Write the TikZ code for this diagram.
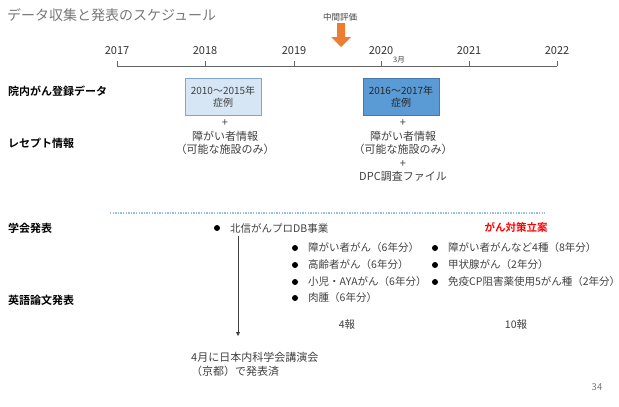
\documentclass[tikz,border=0pt]{standalone}
\usepackage{fontspec}
\usepackage{tikz}
\usetikzlibrary{arrows.meta}
\newfontfamily\jp{Noto Sans CJK JP}[BoldFont={Noto Sans CJK JP Bold}]
\definecolor{txtgray}{RGB}{64,64,64}
\definecolor{titlegray}{RGB}{120,120,120}
\definecolor{axisgray}{RGB}{100,100,100}
\definecolor{boxlight}{RGB}{214,230,244}
\definecolor{boxlightedge}{RGB}{130,165,205}
\definecolor{boxdark}{RGB}{91,155,213}
\definecolor{boxdarkedge}{RGB}{70,120,170}
\definecolor{midorange}{RGB}{237,125,49}
\definecolor{dotblue}{RGB}{150,190,232}

\begin{document}
\begin{tikzpicture}
  [x=1pt,y=-1pt,every node/.style={text=txtgray,inner sep=0pt,font=\jp\fontsize{10.5}{14}\selectfont},
   head/.style={anchor=west,text=black,font=\jp\bfseries\fontsize{11}{12}\selectfont},
   item/.style={anchor=west},
   dot/.style={circle,fill=black,minimum size=6pt},
   stack/.style={align=center,font=\jp\fontsize{11}{13.5}\selectfont},
   cases/.style={line width=0.8pt,minimum width=76pt,minimum height=37pt,align=center,font=\jp\fontsize{10}{12.5}\selectfont}]

  \useasboundingbox (0,0) rectangle (619,407);

  \node[anchor=west,text=titlegray,font=\jp\fontsize{14}{15}\selectfont] (title) at (7,15) {データ収集と発表のスケジュール};

  \coordinate (t0) at (117,66);
  \coordinate (t1) at (557,66);
  \draw[axisgray,line width=0.8pt] (t0) -- (t1);
  \foreach \yr/\xp in {2017/117,2018/205,2019/294,2020/381,2021/469,2022/557} {
    \node[text=black!80,font=\jp\fontsize{11}{12}\selectfont] (y\yr) at (\xp,51) {\yr};
    \draw[axisgray,line width=0.8pt] (\xp,61) -- (\xp,66);
  }
  \node[font=\jp\fontsize{7.5}{8}\selectfont] (march) at (399,60) {3月};

  \node[font=\jp\fontsize{8.5}{10}\selectfont] (midterm) at (340,17) {中間評価};
  \fill[midorange] (337,23) -- (345,23) -- (345,37) -- (351,37) -- (341,47) -- (331,37) -- (337,37) -- cycle;

  \node[head] (hosp) at (8,91) {院内がん登録データ};
  \node[head] (rece) at (8,143) {レセプト情報};
  \node[head] (conf) at (8,228) {学会発表};
  \node[head] (engl) at (8,300) {英語論文発表};

  \node[cases,fill=boxlight,draw=boxlightedge] (case1) at (223,96.5) {2010～2015年\\症例};
  \node[cases,fill=boxdark,draw=boxdarkedge,text=black!85] (case2) at (401,96.5) {2016～2017年\\症例};
  \node[stack] (add1) at (225,137.5) {+\\障がい者情報\\（可能な施設のみ）};
  \node[stack] (add2) at (403,151) {+\\障がい者情報\\（可能な施設のみ）\\+\\DPC調査ファイル};

  \coordinate (d0) at (110,213);
  \coordinate (d1) at (545,213);
  \draw[dotblue,line width=1.2pt,dash pattern=on 1.3pt off 1.3pt] (d0) -- (d1);

  \node[dot] (b0) at (217,228) {};
  \node[item] (hsdb) at (230,228) {北信がんプロDB事業};
  \foreach \i/\yy/\txt in {1/248/障がい者がん（6年分）,2/265/高齢者がん（6年分）,3/282/小児・AYAがん（6年分）,4/298/肉腫（6年分）} {
    \node[dot] (p\i) at (295,\yy) {};
    \node[item] (q\i) at (308,\yy) {\txt};
  }
  \foreach \i/\yy/\txt in {1/248/障がい者がんなど4種（8年分）,2/265/甲状腺がん（2年分）,3/282/免疫CP阻害薬使用5がん種（2年分）} {
    \node[dot] (r\i) at (435,\yy) {};
    \node[item] (s\i) at (448,\yy) {\txt};
  }
  \node[text=red,font=\jp\bfseries\fontsize{10.5}{12}\selectfont] (plan) at (516,227) {がん対策立案};

  \node (four) at (347,325) {4報};
  \node (ten) at (516,325) {10報};

  \coordinate (a0) at (238,236);
  \coordinate (a1) at (238,336);
  \draw[txtgray,line width=0.8pt,-{Triangle[length=4pt,width=4pt]}] (a0) -- (a1);
  \node[anchor=west,align=left,font=\jp\fontsize{11}{14}\selectfont] (kyoto) at (191,364) {4月に日本内科学会講演会\\（京都）で発表済};

  \node[text=titlegray,font=\jp\fontsize{9.5}{10}\selectfont] (page) at (597,387) {34};
\end{tikzpicture}
\end{document}
